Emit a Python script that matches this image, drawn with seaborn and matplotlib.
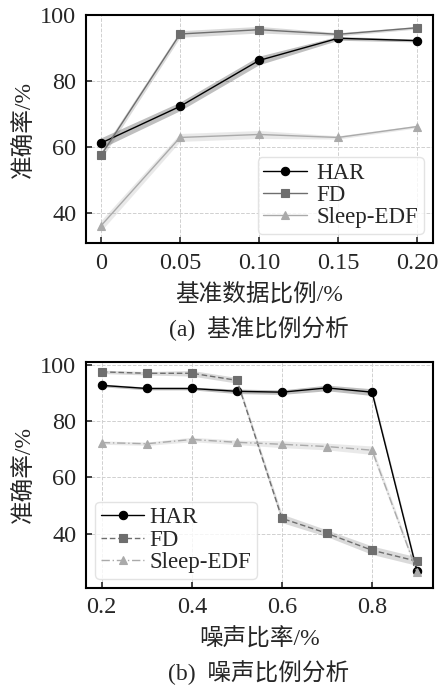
import numpy as np
import pandas as pd
import matplotlib
matplotlib.use("Agg")
import matplotlib.pyplot as plt
import seaborn as sns

# (a) 基准比例分析
ratio_a = [0.0, 0.05, 0.10, 0.15, 0.20]
har_a = [61.3, 72.4, 86.3, 93.0, 92.3]
fd_a = [57.6, 94.3, 95.6, 94.2, 96.2]
sleep_a = [36.3, 63.0, 63.9, 63.0, 66.3]
har_a_err = [1.6, 1.3, 1.3, 0.6, 0.4]
fd_a_err = [1.2, 1.0, 1.0, 0.5, 0.4]
sleep_a_err = [1.6, 1.2, 1.2, 0.5, 0.4]

# (b) 噪声比例分析
ratio_b = [0.2, 0.3, 0.4, 0.5, 0.6, 0.7, 0.8, 0.9]
har_b = [92.6, 91.5, 91.5, 90.5, 90.2, 91.7, 90.2, 26.6]
fd_b = [97.4, 96.9, 96.9, 94.4, 45.4, 40.1, 34.1, 30.2]
sleep_b = [72.3, 71.9, 73.4, 72.4, 71.7, 70.9, 69.6, 26.4]
har_b_err = [0.5, 0.5, 0.5, 0.8, 0.8, 1.0, 1.2, 1.0]
fd_b_err = [0.6, 0.6, 1.0, 1.0, 1.5, 1.2, 1.5, 1.5]
sleep_b_err = [0.6, 0.6, 0.8, 0.8, 1.2, 1.2, 1.5, 1.0]

series_names = ["HAR", "FD", "Sleep-EDF"]
x_ticks_a = [0, 0.05, 0.10, 0.15, 0.20]
x_ticklabels_a = ["0", "0.05", "0.10", "0.15", "0.20"]
y_ticks = [40, 60, 80, 100]


def lang_data(x, verdier, feil):
    # lager lange data med nedre, midt og øvre verdi per punkt
    rader = []
    for navn, v, e in zip(series_names, verdier, feil):
        for xi, vi, ei in zip(x, v, e):
            for d in (-ei, 0.0, ei):
                rader.append({"x": xi, "y": vi + d, "serie": navn})
    return pd.DataFrame(rader)


sns.set_theme(style="ticks")
plt.rcParams["font.family"] = ["Liberation Serif", "Noto Sans CJK SC"]
plt.rcParams["axes.unicode_minus"] = False

farger = {"HAR": "#000000", "FD": "#6e6e6e", "Sleep-EDF": "#aaaaaa"}
markorer = {"HAR": "o", "FD": "s", "Sleep-EDF": "^"}

fig = plt.figure(figsize=(4.39, 6.89), dpi=100)
ax1 = fig.add_axes([0.196, 0.647, 0.790, 0.331])
ax2 = fig.add_axes([0.196, 0.147, 0.790, 0.328])


def tegn(ax, df, stiler):
    sns.lineplot(data=df, x="x", y="y", hue="serie", style="serie",
                 palette=farger, markers=markorer, dashes=stiler,
                 estimator="mean", errorbar=("pi", 100),
                 err_kws={"alpha": 0.25, "linewidth": 0},
                 markersize=6, markeredgewidth=0.8, linewidth=1.0, ax=ax)
    for l in ax.get_lines():
        l.set_markeredgecolor(l.get_color())
    ax.grid(True, linestyle="--", color="#d0d0d0", linewidth=0.7)
    ax.tick_params(direction="in", length=4, width=1.2, labelsize=17.5, pad=7)
    for s in ax.spines.values():
        s.set_linewidth(1.5)
        s.set_color("black")
    ax.set_ylabel("准确率/%", fontsize=17, labelpad=4)


df_a = lang_data(ratio_a, [har_a, fd_a, sleep_a], [har_a_err, fd_a_err, sleep_a_err])
tegn(ax1, df_a, {"HAR": "", "FD": "", "Sleep-EDF": ""})
ax1.set_xlim(-0.0095, 0.21)
ax1.set_ylim(31, 100)
ax1.set_xticks(x_ticks_a)
ax1.set_xticklabels(x_ticklabels_a)
ax1.set_yticks(y_ticks)
ax1.set_xlabel("基准数据比例/%", fontsize=17, labelpad=7)
leg1 = ax1.legend(loc="lower right", fontsize=16.5, frameon=True, handlelength=1.9,
                  borderpad=0.25, labelspacing=0.05, handletextpad=0.4,
                  borderaxespad=0.4)
leg1.get_frame().set_edgecolor("#dddddd")

df_b = lang_data(ratio_b, [har_b, fd_b, sleep_b], [har_b_err, fd_b_err, sleep_b_err])
tegn(ax2, df_b, {"HAR": "", "FD": (4, 2), "Sleep-EDF": (6, 2, 1, 2)})
ax2.set_xlim(0.165, 0.935)
ax2.set_ylim(20.8, 101)
ax2.set_xticks([0.2, 0.4, 0.6, 0.8])
ax2.set_xticklabels(["0.2", "0.4", "0.6", "0.8"])
ax2.set_yticks(y_ticks)
ax2.set_xlabel("噪声比率/%", fontsize=17, labelpad=7)
leg2 = ax2.legend(loc="lower left", fontsize=16.5, frameon=True, handlelength=1.9,
                  borderpad=0.25, labelspacing=0.05, handletextpad=0.2,
                  borderaxespad=0.4)
leg2.get_frame().set_edgecolor("#dddddd")

fig.text(0.59, 1 - 329 / 689, "(a)  基准比例分析", ha="center", va="center", fontsize=17)
fig.text(0.59, 1 - 673 / 689, "(b)  噪声比例分析", ha="center", va="center", fontsize=17)

fig.savefig("out.png", dpi=100)
